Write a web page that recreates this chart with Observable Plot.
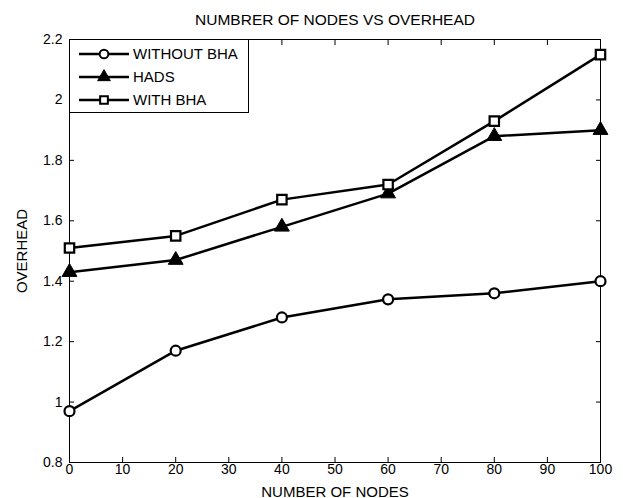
<!DOCTYPE html>
<html><head><meta charset="utf-8">
<script src="https://cdn.jsdelivr.net/npm/d3@7"></script>
<script src="https://cdn.jsdelivr.net/npm/@observablehq/plot@0.6"></script>
<style>
body{margin:0;background:#fff}
#wrap{position:relative;width:623px;height:498px;font-family:"Liberation Sans",Arial,sans-serif}
#legend{position:absolute;left:69px;top:39px;width:180px;height:74px;border:1px solid #000;background:#fff;box-sizing:border-box}
</style>
</head><body><div id="wrap"></div>
<script>
const nodes = [0, 20, 40, 60, 80, 100];
const withoutBHA = [0.97, 1.17, 1.28, 1.34, 1.36, 1.40];
const hads = [1.43, 1.47, 1.58, 1.69, 1.88, 1.90];
const withBHA = [1.51, 1.55, 1.67, 1.72, 1.93, 2.15];
const seriesNames = ["WITHOUT BHA", "HADS", "WITH BHA"];
const seriesSymbols = ["circle", "triangle", "square"];
const xTicks = [0, 10, 20, 30, 40, 50, 60, 70, 80, 90, 100];
const yTicks = [0.8, 1, 1.2, 1.4, 1.6, 1.8, 2, 2.2];
const title = "NUMBRER OF NODES VS OVERHEAD";
const xLabel = "NUMBER OF NODES";
const yLabel = "OVERHEAD";

const seriesValues = [withoutBHA, hads, withBHA];
const rows = seriesNames.flatMap((name, i) =>
  nodes.map((n, j) => ({series: name, symbol: seriesSymbols[i], x: n, y: seriesValues[i][j]})));

const font = "Liberation Sans, Arial, sans-serif";
const chart = Plot.plot({
  width: 623, height: 498,
  marginLeft: 69, marginRight: 23, marginTop: 39, marginBottom: 36,
  style: {fontFamily: font, fontSize: "14px", color: "#000", background: "#fff"},
  x: {domain: [0, 100]},
  y: {domain: [0.8, 2.2]},
  marks: [
    Plot.frame({stroke: "#000", strokeWidth: 1}),
    Plot.axisX(xTicks, {anchor: "bottom", tickSize: -5, tickPadding: 7, label: null, fontSize: 14}),
    Plot.axisX(xTicks, {anchor: "top", tickSize: -5, tickFormat: () => "", label: null}),
    Plot.axisY(yTicks, {anchor: "left", tickSize: -5, tickPadding: 12, label: null, fontSize: 14, tickFormat: d => String(d)}),
    Plot.axisY(yTicks, {anchor: "right", tickSize: -5, tickFormat: () => "", label: null}),
    Plot.line(rows, {x: "x", y: "y", z: "series", stroke: "#000", strokeWidth: 2.5}),
    Plot.dot(rows.filter(d => d.symbol === "circle"), {x: "x", y: "y", symbol: "circle", r: 5, stroke: "#000", strokeWidth: 2.2, fill: "#fff"}),
    Plot.dot(rows.filter(d => d.symbol === "triangle"), {x: "x", y: "y", symbol: "triangle", r: 5.5, stroke: "#000", strokeWidth: 1, fill: "#000"}),
    Plot.dot(rows.filter(d => d.symbol === "square"), {x: "x", y: "y", symbol: "square", r: 5.3, stroke: "#000", strokeWidth: 2.2, fill: "#fff"}),
    Plot.text([title], {frameAnchor: "top", dy: -26, text: d => d, fontSize: 15.5, fill: "#000", textAnchor: "middle"}),
    Plot.text([xLabel], {frameAnchor: "bottom", dy: 34, text: d => d, fontSize: 15, fill: "#000", textAnchor: "middle"}),
    Plot.text([yLabel], {frameAnchor: "left", dx: -47, rotate: -90, text: d => d, fontSize: 15, fill: "#000", textAnchor: "middle"})
  ]
});
const wrap = document.getElementById("wrap");
wrap.appendChild(chart);

// legend
const leg = d3.select(wrap).append("div").attr("id", "legend");
const svg = leg.append("svg").attr("width", 178).attr("height", 72).style("display", "block");
const rowY = [14, 37, 60];
seriesNames.forEach((name, i) => {
  const g = svg.append("g").attr("transform", `translate(0,${rowY[i]})`);
  g.append("line").attr("x1", 9).attr("x2", 59).attr("y1", 0).attr("y2", 0).attr("stroke", "#000").attr("stroke-width", 2.5);
  const sym = d3.symbol().type(seriesSymbols[i] === "circle" ? d3.symbolCircle : seriesSymbols[i] === "triangle" ? d3.symbolTriangle : d3.symbolSquare).size(seriesSymbols[i] === "triangle" ? 70 : 60);
  g.append("path").attr("d", sym()).attr("transform", "translate(34,0)")
    .attr("fill", seriesSymbols[i] === "triangle" ? "#000" : "#fff").attr("stroke", "#000").attr("stroke-width", seriesSymbols[i] === "triangle" ? 1 : 2);
  g.append("text").attr("x", 63).attr("y", 0).attr("dy", "0.35em").attr("font-size", 15).attr("font-family", font).text(name);
});
</script>
</body></html>
